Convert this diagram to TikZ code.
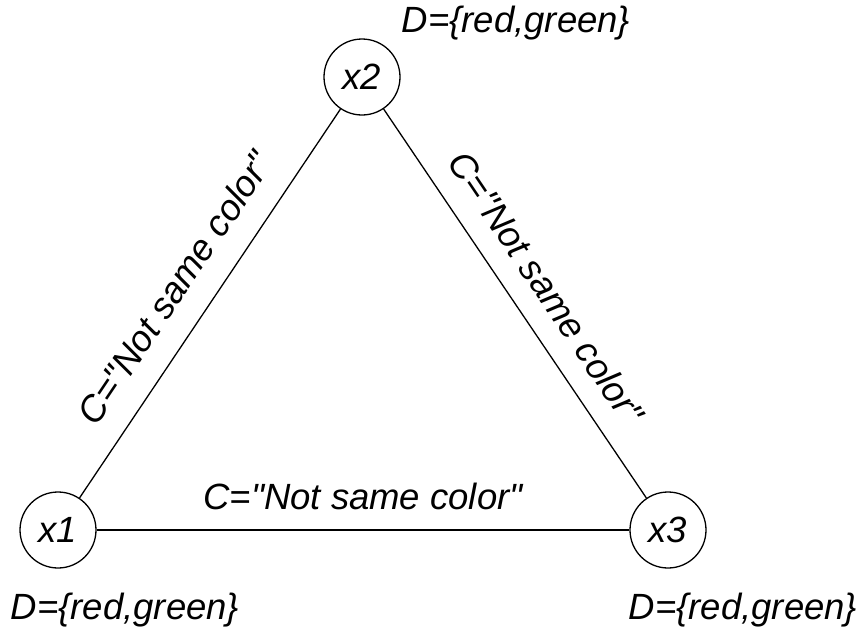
\documentclass[tikz,border=0pt]{standalone}
\usepackage{fontspec}
\newfontfamily\lsans{Liberation Sans}
\begin{document}
\begin{tikzpicture}[x=1pt,y=1pt,
  lbl/.style={font=\lsans\itshape\fontsize{36.5}{42}\selectfont, inner sep=0pt},
  var/.style={lbl, circle, draw, line width=1.3pt, minimum size=76pt},
  dom/.style={lbl, anchor=base},
  edge/.style={line width=1.3pt}]
\useasboundingbox (0,0) rectangle (863,-630);
\node[var] (x1) at (58,-530) {x1};
\node[var] (x2) at (362,-77) {x2};
\node[var] (x3) at (668,-530) {x3};
\node[dom] (d2) at (516,-32) {D=\{red,green\}};
\node[dom] (d1) at (125,-619) {D=\{red,green\}};
\node[dom] (d3) at (743,-619) {D=\{red,green\}};
\draw[edge] (x1) -- node[lbl, pos=0.485, sloped, above=24pt] (c12) {C="Not same color"} (x2);
\draw[edge] (x2) -- node[lbl, pos=0.51, sloped, above=21pt] (c23) {C="Not same color"} (x3);
\draw[edge] (x1) -- node[lbl, pos=0.5, above=20pt] (c13) {C="Not same color"} (x3);
\end{tikzpicture}
\end{document}
